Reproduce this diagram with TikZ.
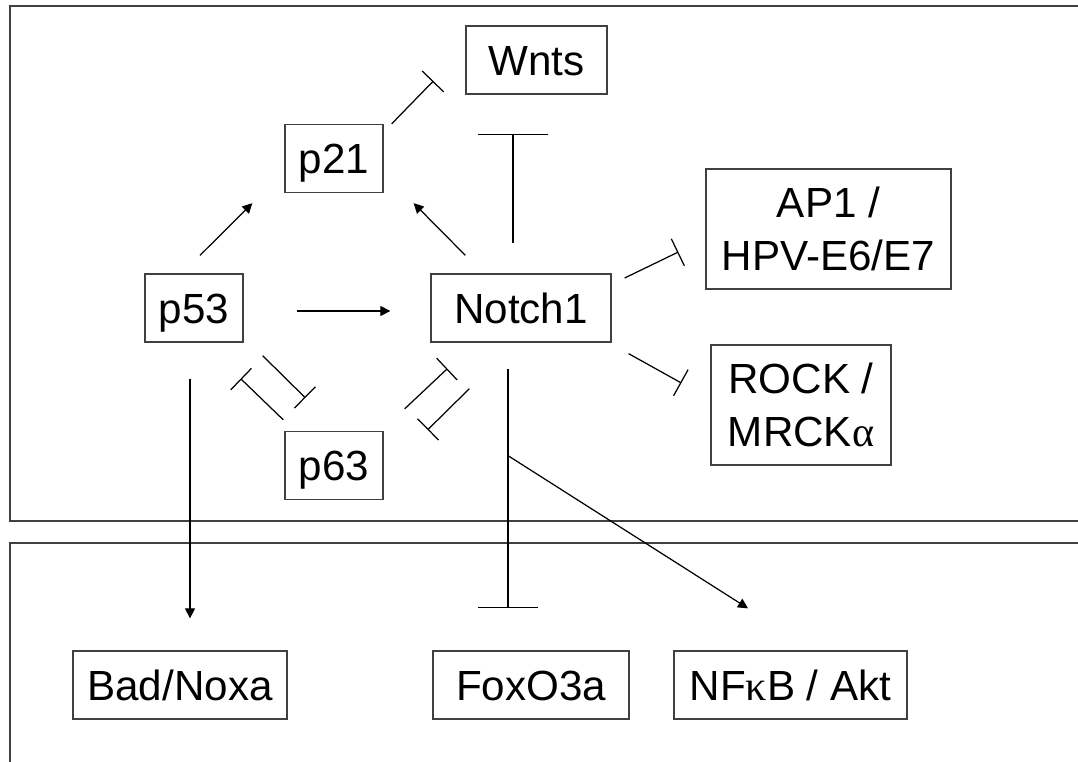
\documentclass[tikz,border=0pt]{standalone}
\usepackage{fontspec}
\setmainfont{Liberation Sans}
\newfontfamily\greekfont{Liberation Serif}
\usetikzlibrary{arrows.meta}
\definecolor{boxgray}{gray}{0.25}
\tikzset{
  box/.style={draw=boxgray, line width=0.75pt, inner sep=0pt, align=center, font=\fontsize{24}{30}\selectfont},
  gene/.style={box, minimum height=1.36cm, text height=17.2pt, text depth=0pt},
  act/.style={-{Triangle[length=2mm, width=2mm]}, line width=0.7pt},
  inh/.style={-{Bar[width=6mm]}, line width=0.7pt},
}
\begin{document}
\begin{tikzpicture}[x=0.02cm, y=-0.02cm]
  \useasboundingbox (0, 0) rectangle (1078, 761);
  % the two compartments
  \draw[boxgray, line width=0.9pt] (10, 6) rectangle (1100, 521);
  \draw[boxgray, line width=0.9pt] (10, 543) rectangle (1100, 790);
  % upper panel
  \node[gene, minimum width=2.82cm] at (536.5, 60) (wnts) {Wnts};
  \node[gene, minimum width=1.96cm] at (334, 158.5) (p21) {p21};
  \node[gene, minimum width=1.96cm] at (194, 308) (p53) {p53};
  \node[gene, minimum width=3.6cm] at (521, 308) (notch) {Notch1};
  \node[box, minimum width=4.9cm, minimum height=2.4cm] at (828.5, 229) (ap1) {AP1 /\\HPV-E6/E7};
  \node[box, minimum width=3.6cm, minimum height=2.4cm] at (801, 405) (rock) {ROCK /\\MRCK{\greekfont α}};
  \node[gene, minimum width=1.96cm] at (334, 465.5) (p63) {p63};
  % lower panel
  \node[gene, minimum width=4.28cm] at (180, 685) (bad) {Bad/Noxa};
  \node[gene, minimum width=3.92cm] at (531, 685) (foxo) {FoxO3a};
  \node[gene, minimum width=4.66cm] at (790.5, 685) (nfkb) {NF{\greekfont κ}B / Akt};
  % activation
  \draw[act] ([shift={(6, -18)}]p53.north) -- ([shift={(-32, 10)}]p21.south west);
  \draw[act] ([shift={(35, -18)}]notch.north west) -- ([shift={(30, 10)}]p21.south east);
  \draw[act] ([shift={(53, 3)}]p53.east) -- ([shift={(-40, 3)}]notch.west);
  \draw[act] ([shift={(-4, 36)}]p53.south) -- ([shift={(10, -32)}]bad.north);
  \draw[act] ([shift={(-13, 113)}]notch.south) -- ([shift={(-42.5, -42)}]nfkb.north);
  % inhibition
  \draw[inh] ([shift={(8, 0)}]p21.north east) -- ([shift={(-32, 21)}]wnts.west);
  \draw[inh, -{Bar[width=1.4cm]}] ([shift={(-8, -30)}]notch.north) -- ([shift={(-23.5, 39)}]wnts.south);
  \draw[inh] ([shift={(13, -30)}]notch.east) -- ([shift={(-27, 23)}]ap1.west);
  \draw[inh] ([shift={(17, 11)}]notch.south east) -- ([shift={(-29, -22)}]rock.west);
  \draw[inh, -{Bar[width=1.2cm]}] ([shift={(-13, 26)}]notch.south) -- ([shift={(-23, -42)}]foxo.north);
  \draw[inh] ([shift={(-1, -11)}]p63.north west) -- ([shift={(-3, 36)}]p53.south east);
  \draw[inh] ([shift={(19, 13)}]p53.south east) -- ([shift={(21, -33)}]p63.north west);
  \draw[inh] ([shift={(21, -22)}]p63.north east) -- ([shift={(17, 26)}]notch.south west);
  \draw[inh] ([shift={(39, 46)}]notch.south west) -- ([shift={(44, -1)}]p63.north east);
\end{tikzpicture}
\end{document}
